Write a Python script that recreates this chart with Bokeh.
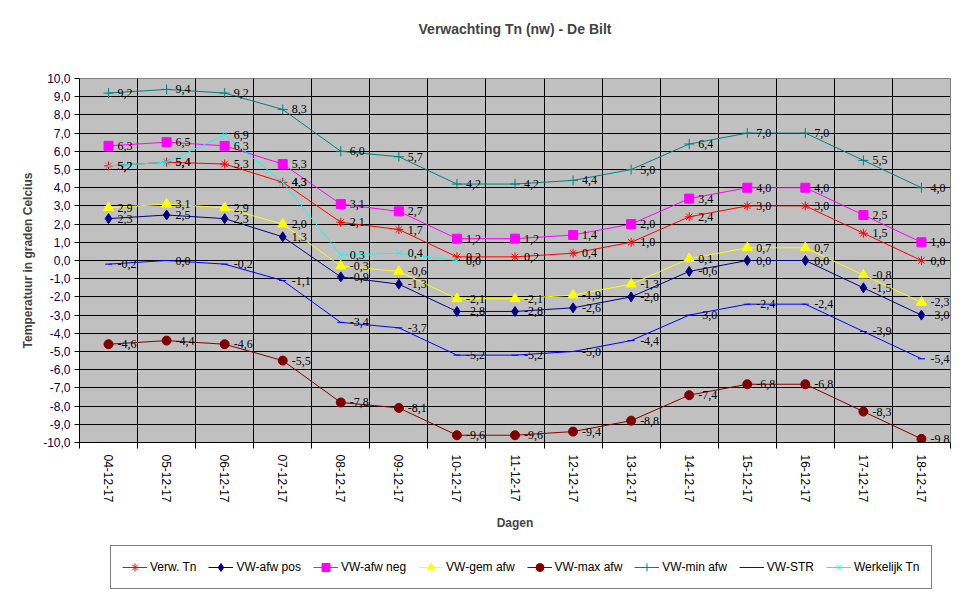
from bokeh.plotting import figure
from bokeh.layouts import column
from bokeh.models import (ColumnDataSource, LabelSet, FixedTicker, Legend,
                          LegendItem, Range1d, Title)
from bokeh.embed import file_html
from bokeh.resources import INLINE
import math

# dates on the x axis
dagen = ["04-12-17", "05-12-17", "06-12-17", "07-12-17", "08-12-17",
         "09-12-17", "10-12-17", "11-12-17", "12-12-17", "13-12-17",
         "14-12-17", "15-12-17", "16-12-17", "17-12-17", "18-12-17"]

verw_tn = [5.2, 5.4, 5.3, 4.3, 2.1, 1.7, 0.2, 0.2, 0.4, 1.0, 2.4, 3.0, 3.0, 1.5, 0.0]
afw_pos = [2.3, 2.5, 2.3, 1.3, -0.9, -1.3, -2.8, -2.8, -2.6, -2.0, -0.6, 0.0, 0.0, -1.5, -3.0]
afw_neg = [6.3, 6.5, 6.3, 5.3, 3.1, 2.7, 1.2, 1.2, 1.4, 2.0, 3.4, 4.0, 4.0, 2.5, 1.0]
gem_afw = [2.9, 3.1, 2.9, 2.0, -0.3, -0.6, -2.1, -2.1, -1.9, -1.3, 0.1, 0.7, 0.7, -0.8, -2.3]
max_afw = [-4.6, -4.4, -4.6, -5.5, -7.8, -8.1, -9.6, -9.6, -9.4, -8.8, -7.4, -6.8, -6.8, -8.3, -9.8]
min_afw = [9.2, 9.4, 9.2, 8.3, 6.0, 5.7, 4.2, 4.2, 4.4, 5.0, 6.4, 7.0, 7.0, 5.5, 4.0]
vw_str = [-0.2, 0.0, -0.2, -1.1, -3.4, -3.7, -5.2, -5.2, -5.0, -4.4, -3.0, -2.4, -2.4, -3.9, -5.4]
werkelijk = [5.2, 5.4, 6.9, 4.3, 0.3, 0.4, 0.0, None, None, None, None, None, None, None, None]

y_ticks = list(range(-10, 11))

series = [
    ("Verw. Tn", verw_tn, "#FF0000", "asterisk", 9),
    ("VW-afw pos", afw_pos, "#000080", "diamond", 10),
    ("VW-afw neg", afw_neg, "#FF00FF", "square", 9),
    ("VW-gem afw", gem_afw, "#FFFF00", "triangle", 10),
    ("VW-max afw", max_afw, "#800000", "circle", 9),
    ("VW-min afw", min_afw, "#008080", "cross", 10),
    ("VW-STR", vw_str, "#0000FF", "dash", 7),
    ("Werkelijk Tn", werkelijk, "#00FFFF", "x", 9),
]

FONT = "Liberation Sans"
W = 959

p = figure(width=W, height=540, output_backend="svg", toolbar_location=None,
           x_range=Range1d(-0.5, len(dagen) - 0.5), y_range=Range1d(-10, 10),
           min_border_left=79, min_border_right=9, min_border_top=78,
           min_border_bottom=98, title=None)
p.background_fill_color = "#C0C0C0"
p.border_fill_color = "white"
p.outline_line_color = "#808080"
p.outline_line_width = 1

# spacer first (closest to the frame), then the real title above it
p.add_layout(Title(text=" ", text_font_size="22px"), "above")
p.add_layout(Title(text="Verwachting Tn (nw) - De Bilt", align="center",
                   text_font=FONT, text_font_size="14px",
                   text_font_style="bold"), "above")

centers = list(range(len(dagen)))
bounds = [i - 0.5 for i in range(len(dagen) + 1)]

# x axis: labels at centers, tick marks at boundaries
p.xaxis.ticker = FixedTicker(ticks=centers, minor_ticks=bounds)
p.xaxis.major_label_overrides = {i: d for i, d in enumerate(dagen)}
p.xaxis.major_label_orientation = -math.pi / 2
p.xaxis.major_tick_out = 0
p.xaxis.major_tick_in = 0
p.xaxis.minor_tick_out = 6
p.xaxis.minor_tick_in = 0
p.xaxis.minor_tick_line_color = "black"
p.xaxis.axis_line_color = "black"
p.xaxis.major_label_text_font = FONT
p.xaxis.major_label_text_font_size = "12px"
p.xaxis.major_label_text_color = "black"
p.xaxis.major_label_standoff = 6
p.xaxis.axis_label = "Dagen"
p.xaxis.axis_label_text_font = FONT
p.xaxis.axis_label_text_font_size = "12px"
p.xaxis.axis_label_text_font_style = "bold"
p.xaxis.axis_label_standoff = 10

# y axis
p.yaxis.ticker = FixedTicker(ticks=y_ticks)
p.yaxis.major_label_overrides = {t: ("%.1f" % t).replace(".", ",") for t in y_ticks}
p.yaxis.major_tick_out = 5
p.yaxis.major_tick_in = 0
p.yaxis.minor_tick_line_color = None
p.yaxis.axis_line_color = "black"
p.yaxis.major_label_text_font = FONT
p.yaxis.major_label_text_font_size = "12px"
p.yaxis.major_label_text_color = "#000050"
p.yaxis.major_label_standoff = 4
p.yaxis.axis_label = "Temperatuur in graden Celcius"
p.yaxis.axis_label_text_font = FONT
p.yaxis.axis_label_text_font_size = "12px"
p.yaxis.axis_label_text_font_style = "bold"
p.yaxis.axis_label_standoff = 5

p.xgrid.ticker = FixedTicker(ticks=bounds)
p.xgrid.grid_line_color = "black"
p.xgrid.grid_line_width = 1
p.ygrid.ticker = FixedTicker(ticks=y_ticks)
p.ygrid.grid_line_color = "black"
p.ygrid.grid_line_width = 1

# separate strip under the chart that only carries the legend box;
# its y range lies far away from the data, so only the legend shows
leg_fig = figure(width=W, height=50, output_backend="svg", toolbar_location=None,
                 x_range=Range1d(0, 1), y_range=Range1d(100, 101),
                 x_axis_type=None, y_axis_type=None,
                 min_border=0, title=None)
leg_fig.grid.visible = False
leg_fig.outline_line_color = None
leg_fig.background_fill_color = "white"
leg_fig.border_fill_color = "white"

items = []
for name, vals, color, marker, size in series:
    ys = [float("nan") if v is None else v for v in vals]
    labels = ["" if v is None else ("%.1f" % v).replace(".", ",") for v in vals]
    src = ColumnDataSource(data=dict(x=centers, y=ys, lab=labels))
    p.line("x", "y", source=src, line_color=color, line_width=1)
    p.scatter("x", "y", source=src, marker=marker, size=size,
              fill_color=color, line_color=color, line_width=1)
    p.add_layout(LabelSet(x="x", y="y", text="lab", source=src, x_offset=9,
                          text_baseline="middle", text_font_size="12px",
                          text_font=FONT, text_color="black"))

    # legend sample renderers (same data, out of view in the strip)
    ln = leg_fig.line("x", "y", source=src, line_color=color, line_width=1)
    sc = leg_fig.scatter("x", "y", source=src, marker=marker, size=size - 1,
                         fill_color=color, line_color=color, line_width=1)
    items.append(LegendItem(label=name, renderers=[ln, sc]))

# the strip's frame is aligned with the chart's frame (starts at x=79)
legend = Legend(items=items, orientation="horizontal", location=(31, 1))
legend.label_text_font = FONT
legend.label_text_font_size = "12px"
legend.label_text_color = "black"
legend.label_standoff = 3
legend.glyph_width = 25
legend.glyph_height = 20
legend.spacing = 12
legend.padding = 11
legend.margin = 0
legend.border_line_color = "black"
legend.border_line_width = 1
legend.background_fill_color = "white"
leg_fig.add_layout(legend)

layout = column(p, leg_fig, spacing=0)
open("out.html", "w").write(file_html(layout, INLINE))
